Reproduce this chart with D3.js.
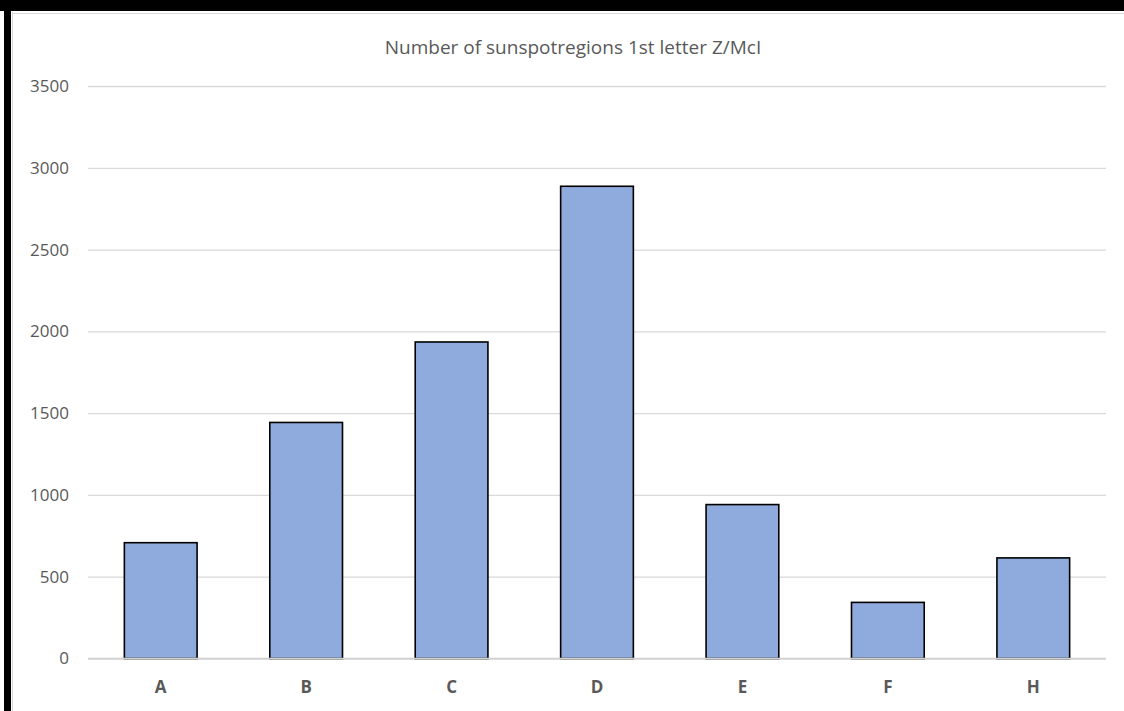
<!DOCTYPE html>
<html>
<head>
<meta charset="utf-8">
<script src="https://cdn.jsdelivr.net/npm/d3@7"></script>
<style>
  body { margin: 0; background: #fff; }
  svg { display: block; }
  text { font-family: "Open Sans", "Liberation Sans", sans-serif; fill: #595959; }
</style>
</head>
<body>
<div id="chart"></div>
<script>
var categories = ["A", "B", "C", "D", "E", "F", "H"];
var counts = [708, 1443, 1935, 2887, 941, 343, 615];
var yTicks = [0, 500, 1000, 1500, 2000, 2500, 3000, 3500];
var title = "Number of sunspotregions 1st letter Z/McI";

var width = 1124, height = 711;
var plot = {left: 88, right: 1106, top: 86, bottom: 658.5};

var svg = d3.select('#chart')
  .append('svg')
    .attr('width', width)
    .attr('height', height);

// frame: thick black edge on the left and top, thin grey inner edge
svg.append('rect').attr('x', 4).attr('y', 0).attr('width', 7).attr('height', height).attr('fill', '#000');
svg.append('rect').attr('x', 0).attr('y', 0).attr('width', width).attr('height', 11).attr('fill', '#000');
svg.append('line').attr('x1', 12.5).attr('x2', 12.5).attr('y1', 12).attr('y2', height)
  .attr('stroke', '#d9d9d9').attr('stroke-width', 1);
svg.append('line').attr('x1', 12).attr('x2', width).attr('y1', 13.5).attr('y2', 13.5)
  .attr('stroke', '#d9d9d9').attr('stroke-width', 1);

var x = d3.scaleBand()
  .domain(categories)
  .range([plot.left, plot.right])
  .paddingInner(0.5)
  .paddingOuter(0.25);

var y = d3.scaleLinear()
  .domain([0, 3500])
  .range([plot.bottom, plot.top]);

// gridlines + y labels
var yAxis = d3.axisLeft(y)
  .tickValues(yTicks)
  .tickFormat(d3.format('d'))
  .tickSize(-(plot.right - plot.left))
  .tickPadding(19);

var gy = svg.append('g')
  .attr('transform', 'translate(' + plot.left + ',0)')
  .call(yAxis);
gy.select('.domain').remove();
gy.selectAll('.tick line').attr('stroke', '#d9d9d9').attr('stroke-width', 1.3);
gy.selectAll('.tick text')
  .attr('font-size', 17)
  .style('font-family', '"Open Sans", "Liberation Sans", sans-serif')
  .attr('fill', '#595959');

// bars
svg.selectAll('rect.bar')
  .data(counts)
  .enter()
    .append('rect')
      .classed('bar', true)
      .attr('x', function (d, i) { return x(categories[i]); })
      .attr('y', function (d) { return y(d); })
      .attr('width', x.bandwidth())
      .attr('height', function (d) { return y(0) - y(d); })
      .attr('fill', '#8faadc')
      .attr('stroke', '#000')
      .attr('stroke-width', 1.6);

// x axis line and category labels
var xAxis = d3.axisBottom(x).tickSize(0).tickPadding(22);
var gx = svg.append('g')
  .attr('transform', 'translate(0,' + plot.bottom + ')')
  .call(xAxis);
gx.select('.domain').attr('stroke', '#d0d0d0').attr('stroke-width', 1.5)
  .attr('d', 'M' + plot.left + ',0H' + plot.right);
gx.selectAll('.tick text')
  .attr('font-size', 17)
  .attr('font-weight', 'bold')
  .style('font-family', '"Open Sans", "Liberation Sans", sans-serif')
  .attr('fill', '#404040');

// title
svg.append('text')
  .attr('x', 573)
  .attr('y', 54)
  .attr('text-anchor', 'middle')
  .attr('font-size', 19)
  .text(title);
</script>
</body>
</html>
